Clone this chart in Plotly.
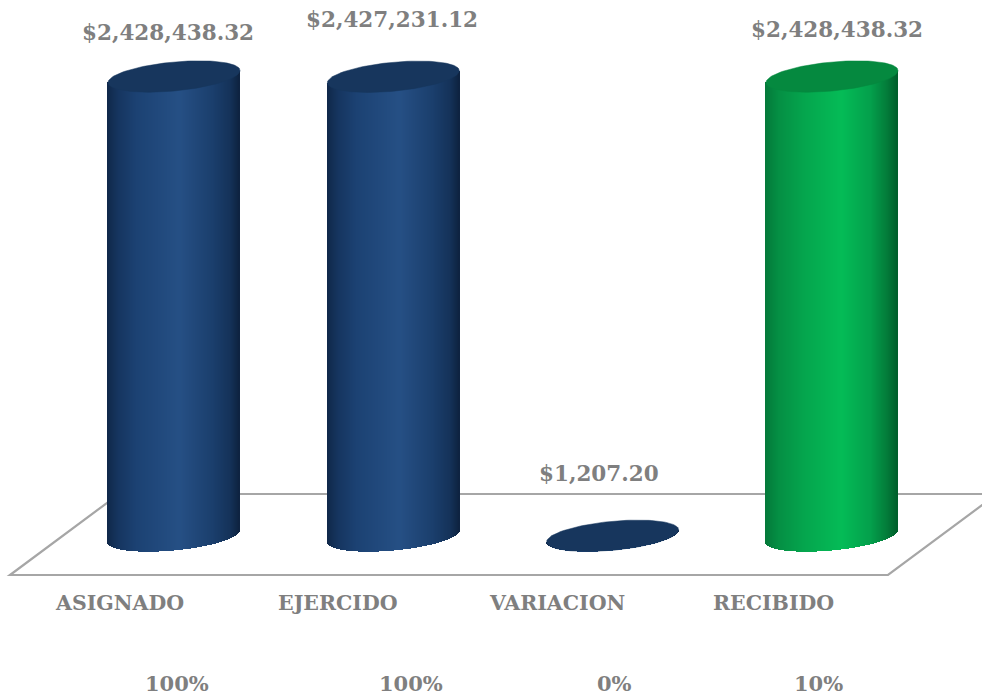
import numpy as np
import plotly.graph_objects as go

categories = ["ASIGNADO", "EJERCIDO", "VARIACION", "RECIBIDO"]
values = [2428438.32, 2427231.12, 1207.20, 2428438.32]
percents = ["100%", "100%", "0%", "10%"]
value_labels = ["$2,428,438.32", "$2,427,231.12", "$1,207.20", "$2,428,438.32"]

BLUE_STOPS = [(0, "#10284a"), (0.08, "#16355f"), (0.22, "#1c4273"), (0.55, "#265085"),
              (0.8, "#1b3f6d"), (0.93, "#15335a"), (1, "#0e2340")]
GREEN_STOPS = [(0, "#04793a"), (0.1, "#058f44"), (0.3, "#05a64e"), (0.58, "#05bc57"),
               (0.8, "#04a04c"), (0.93, "#037a39"), (1, "#005f2c")]
cylinder_stops = [BLUE_STOPS, BLUE_STOPS, BLUE_STOPS, GREEN_STOPS]
cap_colors = ["#17365d", "#17365d", "#17365d", "#05893f"]

W, H = 982, 695
PX_X0, PX_STEP = 174.0, 219.33      # pixel of first category, pixels per category
PX_Y0 = 536.0                        # pixel of value zero
K = values[0] / 459.5                # value per pixel
HALF_W, CAP_B, CAP_K = 66.0, 14.5, 6.0
FLOOR = "#a6a6a6"
TEXT = "#7f7f7f"
FONT = "DejaVu Serif"


def hex_rgb(c):
    return [int(c[i:i + 2], 16) for i in (1, 3, 5)]


def shade(u, stops):
    pos = [s[0] for s in stops]
    rgb = np.array([hex_rgb(s[1]) for s in stops], float)
    return "rgb(%d,%d,%d)" % tuple(np.interp(u, pos, rgb[:, j]) for j in range(3))


def px_x(p):
    return (p - PX_X0) / PX_STEP


def px_y(p):
    return (PX_Y0 - p) * K


fig = go.Figure()

# floor parallelogram, below the bars and clipped by the plot area on the right
fx = [10, 888, 997, 119]
fy = [575, 575, 494, 494]
floor_path = "M " + " L ".join(f"{px_x(a)},{px_y(b)}" for a, b in zip(fx, fy)) + " Z"
fig.add_shape(type="path", path=floor_path, xref="x", yref="y", layer="below",
              line=dict(color=FLOOR, width=2.2))

half = HALF_W / PX_STEP
n = int(2 * HALF_W)
for i, v in enumerate(values):
    # side of the cylinder, one narrow bar per shading step
    u = (np.arange(n) + 0.5) / n * 2 - 1
    xs = i + u * half
    low = (CAP_K * u - CAP_B * np.sqrt(1 - u ** 2)) * K
    top = v + CAP_K * u * K
    fig.add_trace(go.Bar(x=xs, y=top - low, base=low, width=1.25 / PX_STEP,
                         marker=dict(color=[shade((a + 1) / 2, cylinder_stops[i]) for a in u],
                                     line=dict(width=0)),
                         hoverinfo="skip", showlegend=False))
    # top cap
    t = np.linspace(0, 2 * np.pi, 121)
    cx = i + np.cos(t) * half
    cy = v + (CAP_K * np.cos(t) + CAP_B * np.sin(t)) * K
    fig.add_trace(go.Scatter(x=cx, y=cy, mode="lines", fill="toself", fillcolor=cap_colors[i],
                             line=dict(color=cap_colors[i], width=0.5),
                             hoverinfo="skip", showlegend=False))

annotations = []
value_label_px = [(168, 33), (392, 19), (599, 474), (837, 30)]
category_px = [(119, 603), (338, 603), (557, 603), (773, 603)]
percent_px = [(177, 683), (411, 683), (614, 683), (818, 683)]


def label(text, p, size):
    annotations.append(dict(x=p[0] / W, y=1 - p[1] / H, xref="paper", yref="paper", text=text,
                            showarrow=False, xanchor="center", yanchor="middle",
                            font=dict(family=FONT, size=size, color=TEXT, weight="bold")))


for i in range(4):
    label(value_labels[i], value_label_px[i], 21.5)
    label(categories[i], category_px[i], 20.5)
    label(percents[i], percent_px[i], 21)

fig.update_layout(
    width=W, height=H, autosize=False, margin=dict(l=0, r=0, t=0, b=0),
    paper_bgcolor="white", plot_bgcolor="white", barmode="overlay", bargap=0, showlegend=False,
    xaxis=dict(range=[px_x(0), px_x(W)], visible=False, fixedrange=True),
    yaxis=dict(range=[px_y(H), px_y(0)], visible=False, fixedrange=True),
    annotations=annotations,
)
fig.write_html("out.html", config={"displayModeBar": False},
               post_script="document.body.style.margin='0';document.body.style.overflow='hidden';")
